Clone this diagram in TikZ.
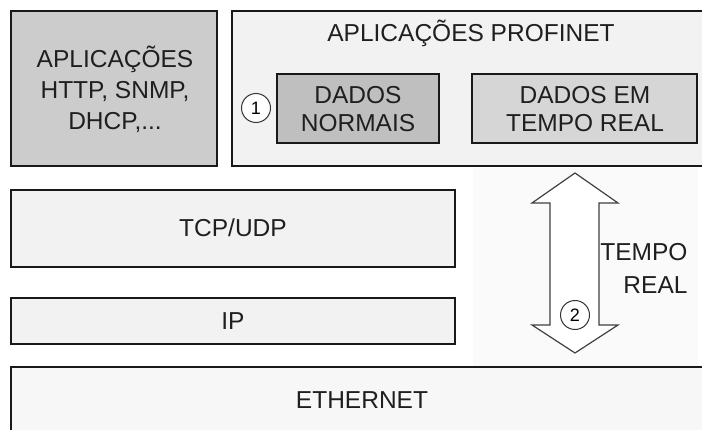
\documentclass[tikz,border=0pt]{standalone}
\usepackage{fontspec}
\setmainfont{Liberation Sans}
\begin{document}
\begin{tikzpicture}[x=1pt,y=-1pt,
  layer/.style={draw=black!90,line width=2.8pt,inner sep=0pt},
  lbl/.style={font=\fontsize{24.5}{31}\selectfont,align=center,text=black!88},
  num/.style={circle,draw=black!80,line width=1pt,fill=white,minimum size=29pt,inner sep=0pt,font=\fontsize{18}{18}\selectfont}]
\useasboundingbox (0,0) rectangle (702,430);
\clip (0,0) rectangle (702,430);
\fill[white] (0,0) rectangle (702,430);

% stacked protocol layers
\draw[layer,fill=black!20] (11,11) rectangle (217,166);
\draw[layer,fill=black!5] (232,11) rectangle (712,166);
\draw[layer,fill=black!25] (277,74) rectangle (439,143);
\draw[layer,fill=black!16] (472,74) rectangle (697,143);
\draw[layer,fill=black!5] (11,190) rectangle (455,267);
\draw[layer,fill=black!5] (11,298) rectangle (455,344);
\fill[black!2] (473,168) rectangle (698,366);
\draw[layer,fill=black!3] (11,367) rectangle (712,440);

% labels
\node[lbl] (apps) at (115,89) {APLICAÇÕES\\HTTP, SNMP,\\DHCP,...};
\node[lbl] (pnet) at (471,33) {APLICAÇÕES PROFINET};
\node[lbl,font=\fontsize{24.5}{28}\selectfont] (nrt) at (358,109) {DADOS\\NORMAIS};
\node[lbl,font=\fontsize{24.5}{28}\selectfont] (rtd) at (585,109) {DADOS EM\\TEMPO REAL};
\node[lbl] (tcp) at (233,228) {TCP/UDP};
\node[lbl] (ip) at (233,321) {IP};
\node[lbl] (eth) at (362,400) {ETHERNET};
\node[lbl,align=right,anchor=east,font=\fontsize{24.5}{33}\selectfont] (rt) at (691,268) {TEMPO\\REAL};

% real-time double arrow
\draw[draw=black!75,line width=1.2pt,fill=white,line join=miter]
  (575,173) -- (532,203) -- (550,203) -- (550,325) -- (532,325) -- (575,353)
  -- (618,325) -- (599,325) -- (599,203) -- (618,203) -- cycle;

\node[num] (n1) at (256,108) {1};
\node[num] (n2) at (575,315) {2};
\end{tikzpicture}
\end{document}
